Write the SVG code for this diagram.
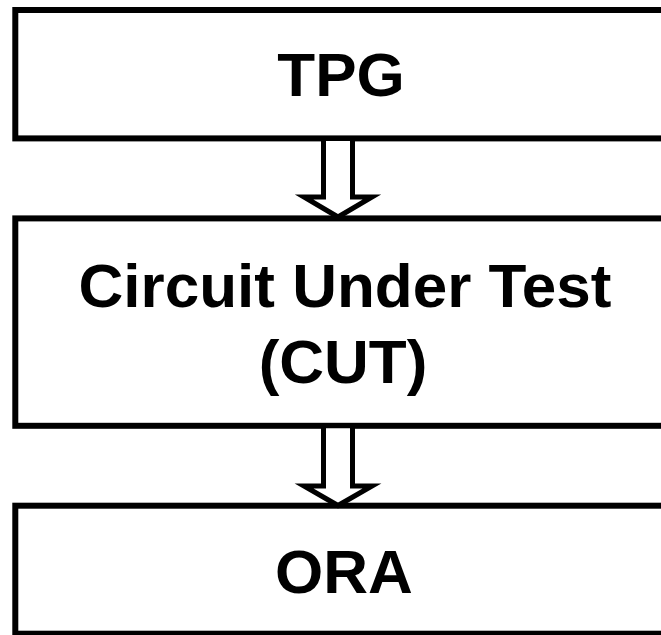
<svg xmlns="http://www.w3.org/2000/svg" width="661" height="635" viewBox="0 0 661 635">
<style>
.box{fill:#fff;stroke:#000;stroke-width:6}
.arr{fill:#fff;stroke:#000;stroke-width:5;stroke-linejoin:miter;stroke-miterlimit:10}
.lbl{font-family:"Liberation Sans",Arial,sans-serif;font-weight:bold;font-size:62px;fill:#000;text-anchor:middle}
</style>
<rect width="661" height="635" fill="#fff"/>
<g id="tpg">
<rect class="box" x="15.3" y="10" width="660" height="128.4"/>
<text class="lbl" x="341" y="96">TPG</text>
</g>
<g id="cut">
<rect class="box" x="15.3" y="218.4" width="660" height="207.4"/>
<text class="lbl" x="345" y="306.7">Circuit Under Test</text>
<text class="lbl" x="343" y="383">(CUT)</text>
</g>
<g id="ora">
<rect class="box" x="15.3" y="505.7" width="660" height="128"/>
<text class="lbl" x="344" y="592.7">ORA</text>
</g>
<g id="connectors">
<polygon class="arr" points="323.5,138.4 323.5,197 304,197 338,217 372,197 352.5,197 352.5,138.4"/>
<polygon class="arr" points="323.5,425.8 323.5,486 304,486 338,505.5 372,486 352.5,486 352.5,425.8"/>
</g>
</svg>
